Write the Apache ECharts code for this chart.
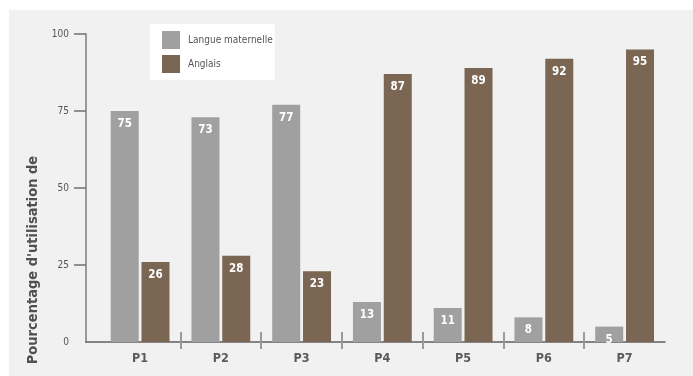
<!DOCTYPE html>
<html>
<head>
<meta charset="utf-8">
<script src="https://cdn.jsdelivr.net/npm/echarts@6/dist/echarts.min.js"></script>
<style>
  html, body { margin: 0; padding: 0; background: #ffffff; }
  #chart { width: 693px; height: 376px; }
</style>
</head>
<body>
<div id="chart"></div>
<script>
const categories = ['P1', 'P2', 'P3', 'P4', 'P5', 'P6', 'P7'];
const langueMaternelle = [75, 73, 77, 13, 11, 8, 5];
const anglais = [26, 28, 23, 87, 89, 92, 95];
const yTicks = [0, 25, 50, 75, 100];
const seriesNames = ['Langue maternelle', 'Anglais'];

const FONT = "'DejaVu Sans Condensed', 'Liberation Sans Narrow', sans-serif";
const catIdx = categories.map((c, i) => i);
const separators = categories.slice(1).map((c, i) => i + 0.5);

const chart = echarts.init(document.getElementById('chart'), null, { renderer: 'canvas' });

const labelOpt = {
  show: true,
  position: 'insideTop',
  distance: 7,
  color: '#ffffff',
  fontWeight: 'bold',
  fontSize: 11.5,
  fontFamily: FONT
};

chart.setOption({
  animation: false,
  graphic: [{
    type: 'rect',
    z: -10,
    shape: { x: 9, y: 10, width: 684, height: 366 },
    style: { fill: '#f0f1f0' },
    silent: true
  }],
  grid: { left: 86, right: 28, top: 34, bottom: 34, containLabel: false, outerBoundsMode: 'none' },
  legend: {
    left: 150,
    top: 24,
    orient: 'vertical',
    icon: 'rect',
    itemWidth: 18,
    itemHeight: 18,
    itemGap: 6,
    padding: [7, 2, 7, 12],
    backgroundColor: '#ffffff',
    data: seriesNames,
    textStyle: { fontSize: 10, color: '#555555', fontFamily: FONT, padding: [0, 0, 0, 3] }
  },
  xAxis: [{
    type: 'value',
    min: -0.67,
    max: 6.5,
    splitLine: { show: false },
    axisLine: { show: true, onZero: false, lineStyle: { color: '#606064', width: 1.5 } },
    axisTick: { show: true, customValues: separators, length: 7, lineStyle: { color: '#9a9a9c', width: 2 } },
    axisLabel: {
      show: true,
      customValues: catIdx,
      formatter: v => categories[Math.round(v)],
      margin: 10,
      color: '#5a5a5a',
      fontWeight: 'bold',
      fontSize: 12.5,
      fontFamily: FONT
    }
  }, {
    type: 'value',
    position: 'bottom',
    min: -0.67,
    max: 6.5,
    splitLine: { show: false },
    axisLine: { show: false, onZero: false },
    axisTick: { show: true, inside: true, customValues: separators, length: 10, lineStyle: { color: '#9a9a9c', width: 2 } },
    axisLabel: { show: false }
  }],
  yAxis: {
    type: 'value',
    min: 0,
    max: 100,
    interval: 25,
    name: 'Pourcentage d\'utilisation de',
    nameLocation: 'middle',
    nameRotate: 90,
    nameGap: 26,
    nameTextStyle: {
      fontSize: 14.5,
      fontWeight: 'bold',
      color: '#505050',
      fontFamily: FONT,
      padding: [0, 144, 0, 0]
    },
    splitLine: { show: false },
    axisLine: { show: true, onZero: false, lineStyle: { color: '#9a9a9c', width: 2 } },
    axisTick: { show: true, customValues: [25, 50, 75, 100], length: 12, lineStyle: { color: '#707072', width: 1.5 } },
    axisLabel: {
      customValues: yTicks,
      margin: 17,
      color: '#555555',
      fontSize: 10,
      fontFamily: FONT
    }
  },
  series: [{
    name: seriesNames[0],
    type: 'bar',
    xAxisIndex: 0,
    barWidth: 28,
    barGap: '10%',
    itemStyle: { color: '#a0a0a1' },
    label: labelOpt,
    data: langueMaternelle.map((v, i) => [i, v])
  }, {
    name: seriesNames[1],
    type: 'bar',
    xAxisIndex: 0,
    barWidth: 28,
    barGap: '10%',
    itemStyle: { color: '#7a6653' },
    label: labelOpt,
    data: anglais.map((v, i) => [i, v])
  }]
});
</script>
</body>
</html>
